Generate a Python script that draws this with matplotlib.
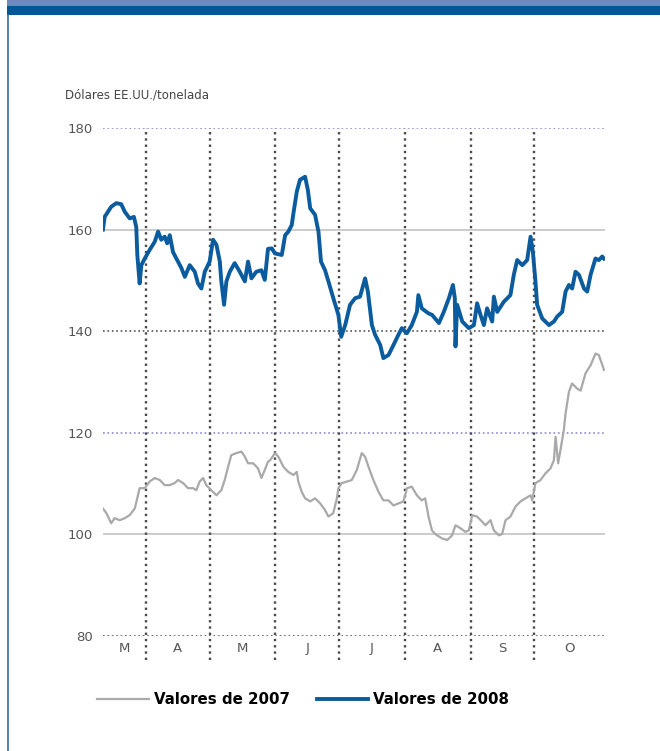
import matplotlib.pyplot as plt
from matplotlib.lines import Line2D
from matplotlib.patches import Rectangle

# dias contados desde el 1 de marzo
dias_2008 = [10.7, 11.5, 14.6, 17.0, 19.3, 21.0, 23.3, 25.3, 26.4, 26.9, 28.0, 28.8, 30.4,
             32.7, 35.1, 36.7, 38.2, 39.8, 41.0, 42.2, 43.7, 46.1, 47.7, 49.3, 51.6, 54.0,
             55.5, 57.1, 58.7, 61.0, 62.6, 64.2, 65.8, 66.5, 67.8, 68.9, 70.5, 72.8, 75.2,
             77.6, 79.1, 80.7, 83.0, 85.4, 87.0, 88.5, 90.3, 91.8, 95.0, 96.6, 98.1, 99.7,
             100.5, 102.1, 103.6, 106.0, 107.3, 108.4, 110.7, 112.3, 113.5, 115.4, 117.0,
             119.3, 121.7, 123.0, 124.9, 127.2, 129.6, 131.9, 134.3, 135.6, 137.5, 139.0,
             141.4, 142.9, 145.3, 147.7, 150.0, 151.6, 154.0, 156.3, 158.7, 159.4, 161.0,
             164.2, 165.9, 169.1, 171.4, 173.8, 175.7, 176.6, 176.9, 177.7, 180.1, 183.2,
             185.6, 187.1, 188.7, 190.3, 191.8, 194.2, 195.0, 196.6, 199.7, 202.8, 204.4,
             206.0, 208.4, 210.7, 212.3, 213.4, 214.6, 215.4, 217.8, 221.0, 223.3, 224.9,
             227.2, 228.8, 230.4, 231.9, 233.5, 235.1, 237.5, 239.0, 240.6, 242.9, 244.5,
             246.1, 246.9]
valores_2008 = [160.0, 162.5, 164.5, 165.2, 165.0, 163.5, 162.2, 162.5, 160.5, 155.0, 149.4,
                153.0, 154.3, 156.0, 157.6, 159.6, 158.0, 158.6, 157.3, 158.9, 155.6, 153.7,
                152.4, 150.7, 153.0, 151.7, 149.4, 148.4, 151.7, 153.7, 158.0, 157.0, 153.7,
                149.8, 145.2, 149.8, 151.7, 153.4, 151.7, 149.8, 153.7, 150.4, 151.7, 152.0,
                150.1, 156.2, 156.3, 155.3, 155.0, 158.9, 159.6, 160.9, 163.2, 167.5, 169.8,
                170.4, 167.8, 164.2, 162.9, 159.6, 153.7, 152.0, 149.8, 146.5, 143.2, 138.9,
                141.2, 145.2, 146.5, 146.8, 150.4, 147.8, 141.2, 139.3, 137.3, 134.7, 135.3,
                137.3, 139.3, 140.6, 139.6, 141.2, 143.8, 147.1, 144.5, 143.5, 143.2, 141.6,
                143.8, 146.5, 149.1, 146.5, 137.0, 145.2, 141.9, 140.6, 141.2, 145.5, 143.2,
                141.2, 144.5, 141.9, 146.8, 143.8, 145.8, 147.1, 151.1, 154.0, 153.0, 154.0,
                158.6, 155.6, 149.8, 145.2, 142.5, 141.2, 141.9, 142.9, 143.8, 147.8, 149.1,
                148.4, 151.7, 151.1, 148.4, 147.8, 151.1, 154.3, 154.0, 154.7, 154.3]

dias_2007 = [10.7, 12.3, 14.6, 16.2, 18.6, 21.0, 23.3, 25.7, 27.2, 28.0, 30.4, 32.7, 35.1,
             37.5, 39.8, 42.2, 44.5, 46.1, 48.5, 50.8, 53.2, 54.7, 56.3, 57.9, 59.4, 61.8,
             64.2, 66.5, 68.1, 69.7, 71.2, 73.6, 76.0, 77.6, 79.1, 81.5, 83.8, 85.4, 87.0,
             88.5, 89.5, 91.8, 93.4, 95.8, 98.1, 100.5, 102.1, 102.8, 104.4, 106.0, 108.4,
             110.7, 113.1, 115.4, 117.0, 119.3, 121.0, 121.7, 123.3, 125.7, 128.0, 130.4,
             132.7, 134.3, 135.9, 138.2, 140.6, 142.9, 145.3, 147.7, 150.0, 152.4, 154.0,
             156.3, 158.7, 161.0, 162.6, 164.2, 165.8, 167.3, 168.3, 170.6, 173.0, 175.3,
             176.9, 179.3, 181.6, 183.2, 184.8, 187.1, 189.5, 191.0, 193.4, 195.0, 197.4,
             198.9, 200.5, 202.8, 205.2, 207.6, 209.9, 212.3, 213.1, 214.6, 217.0, 219.3,
             221.7, 223.3, 224.1, 225.3, 226.4, 228.0, 228.8, 230.4, 231.9, 234.3, 235.9,
             238.2, 240.6, 242.9, 244.5, 246.9]
valores_2007 = [105.1, 104.2, 102.2, 103.2, 102.8, 103.2, 103.8, 105.1, 107.7, 109.1, 109.1,
                110.4, 111.1, 110.7, 109.7, 109.7, 110.1, 110.7, 110.1, 109.1, 109.1, 108.7,
                110.4, 111.1, 109.7, 108.7, 107.7, 108.7, 110.7, 113.3, 115.6, 116.0, 116.3,
                115.3, 114.0, 114.0, 113.0, 111.1, 112.7, 114.3, 114.6, 116.0, 115.3, 113.3,
                112.3, 111.7, 112.3, 110.4, 108.4, 107.1, 106.5, 107.1, 106.1, 104.8, 103.5,
                104.2, 107.1, 109.1, 110.1, 110.4, 110.7, 112.7, 116.0, 115.3, 113.3, 110.7,
                108.4, 106.7, 106.7, 105.7, 106.1, 106.5, 109.1, 109.4, 107.7, 106.7, 107.1,
                103.5, 100.8, 100.1, 99.8, 99.2, 98.9, 99.8, 101.8, 101.2, 100.5, 100.8, 103.8,
                103.5, 102.5, 101.8, 102.8, 100.8, 99.8, 100.1, 102.8, 103.5, 105.5, 106.5,
                107.1, 107.7, 106.7, 110.1, 110.7, 112.0, 113.0, 114.6, 119.2, 114.0, 116.6,
                120.6, 123.8, 128.1, 129.7, 128.7, 128.3, 131.7, 133.3, 135.6, 135.3, 132.4]

inicio_mes = [31, 61, 92, 122, 153, 184, 214]
meses = ['M', 'A', 'M', 'J', 'J', 'A', 'S', 'O']
x_min, x_max = 10.7, 247.5
y_ticks = [80, 100, 120, 140, 160, 180]

fig = plt.figure(figsize=(6.6, 7.51), dpi=100)
ax = fig.add_axes([0.156, 0.1531, 0.761, 0.6765])

# cabecera azul y borde izquierdo
fig.add_artist(Rectangle((7 / 660, 1 - 6 / 751), 1, 6 / 751, transform=fig.transFigure,
                         color='#6b8cbf', lw=0))
fig.add_artist(Rectangle((7 / 660, 1 - 15 / 751), 1, 9 / 751, transform=fig.transFigure,
                         color='#00579a', lw=0))
fig.add_artist(Line2D([8 / 660, 8 / 660], [0, 1 - 15 / 751], transform=fig.transFigure,
                      color='#3c6a9c', lw=1.2))

# rejilla horizontal
estilos = {80: ('#555555', ':'), 100: ('#c4c4c4', '-'), 120: ('#8a8ad8', ':'),
           140: ('#555555', ':'), 160: ('#c4c4c4', '-'), 180: ('#8a8ad8', ':')}
for v in y_ticks:
    c, ls = estilos[v]
    ax.axhline(v, color=c, ls=ls, lw=1.2, zorder=1)

# separadores de mes
ax.vlines(inicio_mes, 75.2, 180, colors='#4a4a4a', linestyles=':', lw=1.7,
          clip_on=False, zorder=1)

ax.plot(dias_2007, valores_2007, color='#a9a9a9', lw=1.6, label='Valores de 2007', zorder=2)
ax.plot(dias_2008, valores_2008, color='#0b5c9e', lw=2.8, label='Valores de 2008', zorder=3)

ax.set_xlim(x_min, x_max)
ax.set_ylim(80, 180)
ax.set_yticks(y_ticks)
bordes = [x_min] + inicio_mes + [x_max]
centros = [(a + b) / 2 for a, b in zip(bordes[:-1], bordes[1:])]
ax.set_xticks(centros)
ax.set_xticklabels(meses)
ax.tick_params(axis='both', length=0, colors='#555555', labelsize=9.5)
ax.tick_params(axis='y', pad=7)
ax.tick_params(axis='x', pad=4)
for s in ax.spines.values():
    s.set_visible(False)

fig.text(65 / 660, 1 - 95 / 751, 'Dólares EE.UU./tonelada', fontsize=8.5,
         color='#444444', va='center', ha='left')

ax.legend(loc='center', bbox_to_anchor=(303 / 660, 1 - 700 / 751),
          bbox_transform=fig.transFigure, ncol=2, frameon=False,
          handlelength=3.45, handletextpad=0.3, columnspacing=1.8,
          prop={'weight': 'bold', 'size': 10.8})

fig.savefig('out.png', dpi=100)
